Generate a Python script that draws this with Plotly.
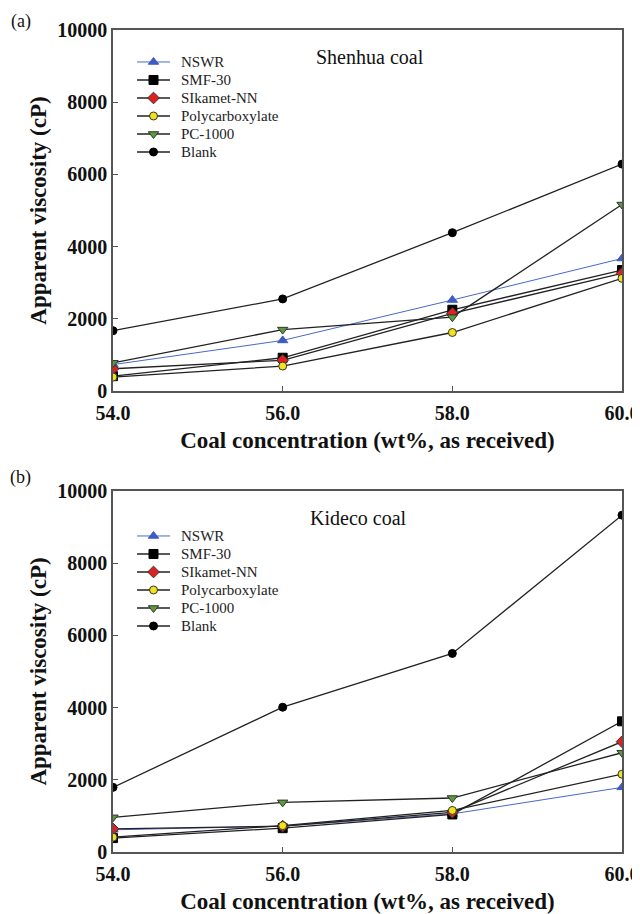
import plotly.graph_objects as go

x_conc = [54.0, 56.0, 58.0, 60.0]
series_names = ["NSWR", "SMF-30", "SIkamet-NN", "Polycarboxylate", "PC-1000", "Blank"]

# Panel (a) Shenhua coal
shenhua_nswr = [730, 1400, 2520, 3670]
shenhua_smf30 = [410, 920, 2250, 3350]
shenhua_sikamet = [615, 850, 2150, 3260]
shenhua_poly = [385, 690, 1620, 3120]
shenhua_pc1000 = [780, 1700, 2045, 5165]
shenhua_blank = [1670, 2550, 4385, 6285]

# Panel (b) Kideco coal
kideco_nswr = [615, 715, 1055, 1790]
kideco_smf30 = [385, 660, 1040, 3620]
kideco_sikamet = [640, 715, 1100, 3055]
kideco_poly = [410, 730, 1150, 2155]
kideco_pc1000 = [960, 1375, 1495, 2750]
kideco_blank = [1790, 4010, 5500, 9330]

x_ticks = [54.0, 56.0, 58.0, 60.0]
x_ticklabels = ["54.0", "56.0", "58.0", "60.0"]
y_ticks = [0, 2000, 4000, 6000, 8000, 10000]
y_ticklabels = ["0", "2000", "4000", "6000", "8000", "10000"]

styles = [
    dict(symbol="triangle-up", color="#3b5cc4", line_color="#4a68c8", outline="#3b5cc4"),
    dict(symbol="square", color="#000000", line_color="#222222", outline="#000000"),
    dict(symbol="diamond", color="#e02020", line_color="#222222", outline="#333333"),
    dict(symbol="circle", color="#f2e21a", line_color="#222222", outline="#333333"),
    dict(symbol="triangle-down", color="#5a9a3a", line_color="#222222", outline="#333333"),
    dict(symbol="circle", color="#000000", line_color="#222222", outline="#000000"),
]

SERIF = "Liberation Serif, Times New Roman, serif"

# layout geometry (paper fractions)
X_DOM = [0.1641, 0.9594]
PANEL_Y = [[0.5810, 0.9759], [0.0766, 0.4716]]
LEG_X_DOM = [0.2016, 0.2531]
LEG_Y_DOM = [[0.8326, 0.9508], [0.3140, 0.4322]]
LEG_TEXT_X = 0.2672

panels = [
    [shenhua_nswr, shenhua_smf30, shenhua_sikamet, shenhua_poly, shenhua_pc1000, shenhua_blank],
    [kideco_nswr, kideco_smf30, kideco_sikamet, kideco_poly, kideco_pc1000, kideco_blank],
]

fig = go.Figure()

def msize(st):
    return 8 if st["symbol"] == "circle" else 9

for p, data in enumerate(panels):
    xa = "x" if p == 0 else "x2"
    ya = "y" if p == 0 else "y2"
    for name, vals, st in zip(series_names, data, styles):
        fig.add_trace(go.Scatter(
            x=x_conc, y=vals, name=name, mode="lines+markers",
            xaxis=xa, yaxis=ya, showlegend=False,
            line=dict(color=st["line_color"], width=1.3 if name != "NSWR" else 1.0),
            marker=dict(symbol=st["symbol"], color=st["color"], size=msize(st),
                        line=dict(color=st["outline"], width=1)),
        ))
    # compact legend drawn on its own small axes (row index = series order)
    lxa = "x3" if p == 0 else "x4"
    lya = "y3" if p == 0 else "y4"
    for r, (name, st) in enumerate(zip(series_names, styles)):
        fig.add_trace(go.Scatter(
            x=[0, 1], y=[r, r], mode="lines", xaxis=lxa, yaxis=lya, showlegend=False,
            hoverinfo="skip",
            line=dict(color=st["line_color"], width=1.3 if name != "NSWR" else 1.0),
        ))
        fig.add_trace(go.Scatter(
            x=[0.5], y=[r], mode="markers", xaxis=lxa, yaxis=lya, showlegend=False,
            hoverinfo="skip",
            marker=dict(symbol=st["symbol"], color=st["color"], size=msize(st),
                        line=dict(color=st["outline"], width=1)),
        ))

common_x = dict(range=[54.0, 60.0], tickvals=x_ticks, ticktext=["<b>%s</b>" % t for t in x_ticklabels],
                showgrid=False, zeroline=False, showline=True, linecolor="#555555", linewidth=1.5,
                mirror=True, ticks="inside", ticklen=5, tickcolor="#555555", automargin=False,
                ticklabelstandoff=3,
                tickfont=dict(family=SERIF, size=20, color="#111111"),
                title=dict(text="<b>Coal concentration (wt%, as received)</b>",
                           font=dict(family=SERIF, size=23, color="#111111"), standoff=9),
                domain=X_DOM)
common_y = dict(range=[0, 10000], tickvals=y_ticks, ticktext=["<b>%s</b>" % t for t in y_ticklabels],
                showgrid=False, zeroline=False,
                showline=True, linecolor="#555555", linewidth=1.5, mirror=True,
                ticks="inside", ticklen=5, tickcolor="#555555", automargin=False,
                tickfont=dict(family=SERIF, size=20, color="#111111"),
                title=dict(text="<b>Apparent viscosity (cP)</b>",
                           font=dict(family=SERIF, size=23, color="#111111"), standoff=4))
leg_x = dict(range=[0, 1], visible=False, fixedrange=True, domain=LEG_X_DOM)
leg_y = dict(range=[5.5, -0.5], visible=False, fixedrange=True)

annotations = []
for p in range(2):
    lya = "y3" if p == 0 else "y4"
    for r, name in enumerate(series_names):
        annotations.append(dict(text=name, x=LEG_TEXT_X, y=r, xref="paper", yref=lya,
                                showarrow=False, xanchor="left", yanchor="middle",
                                font=dict(family=SERIF, size=15, color="#222222")))

annotations += [
    dict(text="Shenhua coal", x=0.5656, y=0.9464, xref="paper", yref="paper", showarrow=False,
         font=dict(family=SERIF, size=20, color="#111111"), xanchor="center", yanchor="middle"),
    dict(text="Kideco coal", x=0.5484, y=0.4420, xref="paper", yref="paper", showarrow=False,
         font=dict(family=SERIF, size=20, color="#111111"), xanchor="center", yanchor="middle"),
    dict(text="(a)", x=0.0203, y=0.9847, xref="paper", yref="paper", showarrow=False,
         font=dict(family=SERIF, size=18, color="#111111"), xanchor="center", yanchor="middle"),
    dict(text="(b)", x=0.0203, y=0.4858, xref="paper", yref="paper", showarrow=False,
         font=dict(family=SERIF, size=18, color="#111111"), xanchor="center", yanchor="middle"),
]

fig.update_layout(
    width=640, height=914,
    paper_bgcolor="white", plot_bgcolor="white",
    margin=dict(l=0, r=0, t=0, b=0),
    showlegend=False,
    xaxis=dict(**common_x, anchor="y"),
    yaxis=dict(**common_y, domain=PANEL_Y[0], anchor="x"),
    xaxis2=dict(**common_x, anchor="y2"),
    yaxis2=dict(**common_y, domain=PANEL_Y[1], anchor="x2"),
    xaxis3=dict(**leg_x, anchor="y3"),
    yaxis3=dict(**leg_y, domain=LEG_Y_DOM[0], anchor="x3"),
    xaxis4=dict(**leg_x, anchor="y4"),
    yaxis4=dict(**leg_y, domain=LEG_Y_DOM[1], anchor="x4"),
    annotations=annotations,
)

fig.write_html("out.html")
